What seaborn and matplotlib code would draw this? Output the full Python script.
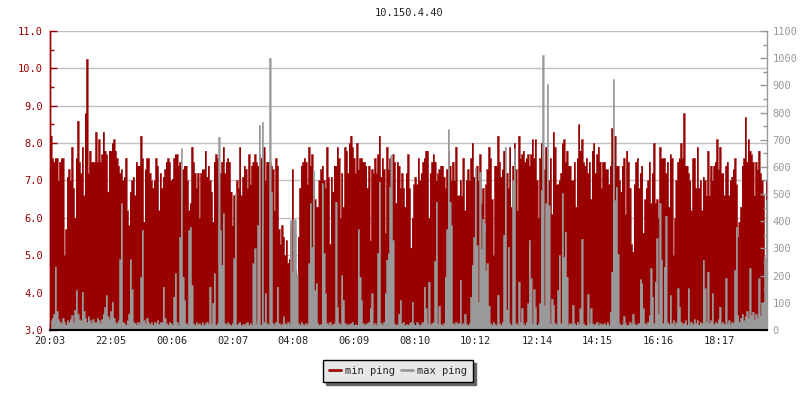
import numpy as np
import matplotlib
matplotlib.use('Agg')
import matplotlib.pyplot as plt
from matplotlib.ticker import MultipleLocator, FormatStrFormatter
from matplotlib.lines import Line2D
import seaborn as sns

# data: one sample every ~3 minutes, 20:03 -> ~19:53
title = '10.150.4.40'
time_labels = ['20:03', '22:05', '00:06', '02:07', '04:08', '06:09',
               '08:10', '10:12', '12:14', '14:15', '16:16', '18:17']
span_min = 1430  # minutes covered by the x axis

# min ping (ms, left axis)
min_ping = [
    8.2, 7.6, 7.5, 7.6, 7.6, 7.0, 7.5, 7.6, 7.6, 5.0,
    5.7, 7.1, 7.3, 7.0, 7.9, 6.8, 6.0, 7.6, 8.6, 7.5,
    7.2, 7.9, 6.6, 8.8, 10.25, 7.2, 7.8, 7.5, 7.5, 7.5,
    8.3, 7.5, 8.1, 7.5, 7.7, 8.3, 7.8, 7.7, 6.7, 7.8,
    7.8, 8.0, 8.1, 7.8, 7.6, 7.4, 7.2, 7.3, 7.0, 7.1,
    7.6, 6.2, 5.8, 6.7, 7.0, 7.1, 6.6, 7.5, 7.4, 7.4,
    8.2, 7.6, 5.9, 7.3, 7.6, 7.6, 7.2, 7.0, 6.8, 7.0,
    7.6, 7.4, 6.2, 7.2, 6.8, 7.1, 7.3, 7.5, 7.6, 7.5,

    7.0, 7.05, 7.6, 7.7, 7.7, 7.4, 7.5, 6.6, 7.3, 7.4,
    7.4, 7.0, 6.2, 6.4, 7.9, 7.5, 7.2, 6.8, 7.2, 6.0,
    7.2, 7.3, 7.3, 7.8, 7.1, 7.4, 7.0, 6.7, 5.9, 7.5,
    7.7, 7.6, 7.1, 7.2, 7.5, 7.9, 7.2, 7.5, 7.6, 7.5,
    6.7, 5.8, 6.6, 6.4, 7.0, 6.8, 7.9, 6.6, 7.1, 7.4,
    7.3, 6.8, 7.7, 6.9, 7.4, 7.5, 7.7, 7.5, 7.4, 7.7,
    7.6, 7.4, 7.9, 7.0, 7.5, 7.5, 7.5, 7.4, 7.3, 6.2,
    7.6, 7.4, 5.7, 5.3, 5.8, 5.5, 5.0, 5.4, 4.8, 4.9,

    5.8, 7.3, 4.5, 4.6, 4.5, 5.5, 6.8, 7.4, 7.5, 7.6,
    7.5, 6.9, 7.9, 7.4, 7.7, 7.0, 6.5, 6.3, 6.3, 7.0,
    7.3, 7.4, 7.0, 6.8, 7.9, 7.1, 5.3, 7.1, 6.7, 7.4,
    7.4, 7.9, 7.6, 6.0, 7.2, 6.3, 7.9, 7.8, 7.2, 8.0,
    8.2, 7.9, 7.6, 7.2, 8.0, 7.3, 7.6, 7.6, 7.5, 7.5,
    7.4, 6.8, 7.4, 5.4, 7.3, 7.2, 7.6, 7.2, 7.7, 8.2,
    7.1, 7.6, 7.3, 5.6, 7.9, 7.3, 7.6, 7.0, 7.7, 7.5,
    6.4, 7.5, 7.4, 6.8, 7.2, 6.8, 6.3, 7.2, 7.7, 6.8,

    5.2, 6.0, 6.9, 7.1, 6.9, 7.6, 7.0, 7.2, 7.5, 7.6,
    7.8, 7.8, 6.0, 7.2, 7.5, 7.7, 7.5, 7.0, 7.2, 7.3,
    7.4, 7.4, 7.1, 6.8, 7.3, 7.8, 7.4, 7.0, 7.5, 7.0,
    7.9, 6.6, 6.6, 7.0, 6.6, 7.6, 6.2, 7.0, 7.3, 7.0,
    7.6, 8.0, 7.1, 7.1, 7.4, 7.0, 7.7, 6.4, 6.8, 5.6,
    6.9, 7.3, 7.9, 7.6, 6.5, 5.0, 7.4, 7.4, 8.2, 7.5,
    7.1, 7.3, 7.8, 7.2, 7.2, 6.8, 7.9, 6.3, 7.4, 8.0,
    7.3, 6.2, 8.2, 7.6, 7.7, 7.8, 7.5, 7.6, 7.7, 7.4,

    7.7, 8.1, 7.6, 8.1, 7.0, 6.0, 7.6, 8.0, 6.8, 7.3,
    7.9, 6.9, 7.0, 7.6, 6.1, 8.3, 7.9, 6.9, 6.9, 7.0,
    7.2, 8.0, 8.1, 7.5, 7.8, 7.4, 7.4, 7.0, 7.0, 7.5,
    6.3, 7.6, 8.5, 7.8, 8.1, 7.5, 7.4, 7.6, 7.2, 7.5,
    6.5, 7.8, 8.0, 7.2, 7.7, 7.9, 7.5, 6.8, 7.5, 7.5,
    7.3, 7.3, 6.9, 7.4, 8.4, 6.9, 8.2, 7.4, 7.4, 7.0,
    6.7, 7.4, 7.6, 6.1, 7.8, 7.5, 6.8, 5.3, 5.1, 6.9,
    7.5, 7.6, 6.8, 7.2, 7.4, 5.6, 6.5, 6.8, 7.0, 7.5,

    6.4, 7.2, 8.0, 6.4, 6.5, 6.0, 7.9, 7.6, 7.6, 7.6,
    7.2, 7.5, 6.3, 7.7, 7.6, 5.0, 6.0, 7.0, 7.5, 7.6,
    8.0, 7.6, 8.8, 7.4, 7.4, 7.2, 7.0, 6.2, 7.6, 7.6,
    6.8, 7.9, 6.8, 7.0, 6.2, 7.1, 7.0, 6.6, 7.8, 6.6,
    7.4, 7.0, 7.4, 7.5, 8.1, 7.3, 7.9, 7.2, 7.2, 6.6,
    7.4, 7.5, 6.6, 7.0, 7.1, 7.3, 7.6, 6.9, 5.5, 5.9,
    6.3, 7.4, 7.6, 8.7, 7.5, 8.1, 7.8, 7.7, 7.5, 6.6,
    7.5, 7.3, 7.8, 7.2, 7.0, 6.6, 4.5, 7.0,
]

# max ping (ms, right axis)
max_ping = [
    35, 45, 60, 233, 70, 40, 30, 25, 45, 30,
    20, 35, 28, 40, 55, 30, 75, 147, 60, 40,
    35, 140, 70, 45, 30, 50, 35, 25, 40, 30,
    28, 45, 35, 25, 40, 60, 85, 128, 50, 40,
    70, 104, 45, 30, 25, 35, 260, 466, 30, 25,
    20, 35, 60, 260, 150, 30, 25, 20, 30, 25,
    196, 368, 35, 25, 45, 30, 22, 28, 20, 30,
    25, 35, 22, 28, 30, 160, 45, 25, 20, 30,

    25, 20, 123, 208, 30, 20, 343, 668, 196, 110,
    25, 20, 368, 380, 165, 25, 20, 30, 22, 25,
    18, 28, 20, 25, 30, 22, 160, 25, 100, 208,
    20, 25, 711, 368, 240, 430, 25, 20, 30, 22,
    18, 25, 264, 503, 20, 25, 30, 18, 22, 20,
    25, 30, 20, 25, 18, 245, 300, 25, 386, 754,
    20, 766, 30, 135, 25, 20, 1000, 509, 25, 20,
    30, 160, 25, 20, 22, 50, 25, 20, 30, 22,

    405, 215, 410, 405, 208, 25, 20, 30, 22, 18,
    25, 20, 245, 466, 306, 588, 147, 172, 25, 20,
    22, 540, 282, 135, 25, 20, 30, 18, 22, 25,
    472, 85, 25, 20, 202, 110, 25, 18, 22, 20,
    25, 30, 20, 22, 18, 370, 196, 110, 25, 20,
    22, 25, 30, 80, 135, 20, 25, 18, 282, 546,
    25, 20, 30, 135, 258, 282, 527, 644, 331, 25,
    20, 22, 60, 110, 25, 30, 18, 22, 20, 25,

    30, 104, 25, 20, 30, 22, 18, 25, 30, 160,
    80, 25, 178, 20, 25, 30, 255, 472, 25, 90,
    22, 18, 25, 196, 370, 738, 472, 386, 25, 20,
    30, 22, 25, 184, 20, 25, 60, 22, 18, 25,
    123, 240, 343, 595, 313, 104, 582, 300, 410, 392,
    220, 245, 90, 25, 20, 30, 22, 18, 130, 25,
    20, 30, 350, 674, 75, 306, 25, 20, 552, 668,
    25, 20, 178, 30, 80, 25, 20, 30, 98, 331,

    190, 25, 150, 85, 20, 25, 98, 515, 1011, 92,
    466, 905, 460, 25, 115, 92, 25, 20, 147, 276,
    25, 503, 270, 362, 196, 20, 25, 22, 92, 25,
    20, 30, 22, 80, 335, 25, 20, 18, 131, 25,
    80, 25, 20, 22, 30, 18, 25, 20, 22, 25,
    20, 30, 18, 67, 215, 923, 478, 527, 280, 25,
    20, 22, 50, 25, 18, 20, 30, 22, 60, 25,
    20, 22, 25, 186, 172, 80, 25, 20, 30, 55,

    227, 123, 25, 178, 337, 60, 466, 258, 25, 233,
    420, 30, 22, 129, 25, 35, 20, 28, 153, 86,
    30, 22, 25, 35, 20, 153, 25, 30, 22, 40,
    25, 35, 20, 30, 25, 258, 153, 30, 215, 25,
    35, 135, 22, 30, 25, 40, 86, 25, 30, 22,
    190, 25, 35, 22, 30, 25, 220, 380, 55, 30,
    45, 60, 35, 50, 70, 45, 227, 55, 67, 40,
    60, 45, 190, 55, 98, 104, 270, 478,
]

RED = '#990000'
GREY = '#999999'

sns.set_style('white')
plt.rcParams['font.family'] = ['DejaVu Sans Mono']
FS = 7.5


def to_min(lbl):
    h, m = lbl.split(':')
    return int(h) * 60 + int(m)


start = to_min(time_labels[0])
tick_pos = [(to_min(t) - start) % 1440 for t in time_labels]


def step_xy(vals):
    v = np.asarray(vals, dtype=float)
    x = np.linspace(0, span_min, len(v) + 1)
    return x, np.append(v, v[-1])


fig = plt.figure(figsize=(8, 4), dpi=100)
ax = fig.add_axes([50 / 800, 70 / 400, 717 / 800, 299 / 400])
ax2 = ax.twinx()

# min ping, red, left scale
x1, y1 = step_xy(min_ping)
ax.fill_between(x1, y1, 3.0, step='post', color=RED, linewidth=0)
sns.lineplot(x=x1, y=y1, ax=ax, drawstyle='steps-post', color=RED, linewidth=0.4)

# max ping, grey, right scale (drawn on top)
x2, y2 = step_xy(max_ping)
ax2.fill_between(x2, y2, 0, step='post', color=GREY, linewidth=0)
sns.lineplot(x=x2, y=y2, ax=ax2, drawstyle='steps-post', color=GREY, linewidth=0.4)

ax.set_xlim(0, span_min)
ax.set_ylim(3, 11)
ax2.set_ylim(0, 1100)
ax.set_xlabel('')
ax.set_ylabel('')
ax2.set_xlabel('')
ax2.set_ylabel('')

# left axis
ax.yaxis.set_major_locator(MultipleLocator(1))
ax.yaxis.set_minor_locator(MultipleLocator(0.5))
ax.yaxis.set_major_formatter(FormatStrFormatter('%.1f'))
ax.tick_params(axis='y', which='both', direction='in', colors=RED,
               labelsize=FS, pad=5, left=True)
ax.tick_params(axis='y', which='major', length=5, width=1)
ax.tick_params(axis='y', which='minor', length=3, width=1)
ax.grid(axis='y', color='#c0c0c0', linewidth=1)
ax.set_axisbelow(True)
ax.tick_params(axis='x', bottom=False, labelbottom=False)

# right axis
ax2.yaxis.set_major_locator(MultipleLocator(100))
ax2.yaxis.set_minor_locator(MultipleLocator(50))
ax2.tick_params(axis='y', which='both', direction='in', colors=GREY,
                labelsize=FS, pad=4, right=True)
ax2.tick_params(axis='y', which='major', length=5, width=1)
ax2.tick_params(axis='y', which='minor', length=3, width=1)
ax2.grid(False)

# time axis on the top layer so ticks stay visible over the grey fill
ax2.xaxis.set_visible(True)
ax2.set_xticks(tick_pos, time_labels)
ax2.tick_params(axis='x', bottom=True, labelbottom=True, direction='in',
                length=5, width=1, color='black', labelsize=FS, pad=4)

for a in (ax, ax2):
    a.spines['top'].set_visible(False)
ax.spines['right'].set_visible(False)
ax.spines['bottom'].set_visible(False)
ax.spines['left'].set_color(RED)
ax.spines['left'].set_linewidth(1)
ax2.spines['left'].set_color(RED)
ax2.spines['left'].set_linewidth(1)
ax2.spines['right'].set_color(GREY)
ax2.spines['right'].set_linewidth(1)
ax2.spines['bottom'].set_visible(True)
ax2.spines['bottom'].set_color('black')
ax2.spines['bottom'].set_linewidth(1.5)

fig.text(409 / 800, 1 - 13 / 400, title, ha='center', va='center', fontsize=FS)

handles = [Line2D([], [], color=RED, linewidth=2),
           Line2D([], [], color=GREY, linewidth=2)]
leg = fig.legend(handles, ['min ping', 'max ping'], loc='center',
                 bbox_to_anchor=(398 / 800, 1 - 371 / 400), ncol=2,
                 prop={'family': 'DejaVu Sans Mono', 'size': FS},
                 frameon=True, fancybox=False, framealpha=1,
                 facecolor='#e8e8e8', edgecolor='black',
                 shadow={'color': '#666666', 'alpha': 1},
                 handlelength=1.1, handletextpad=0.4, columnspacing=0.6,
                 borderpad=0.6)
leg.get_frame().set_linewidth(1)

fig.savefig('out.png', dpi=100)
